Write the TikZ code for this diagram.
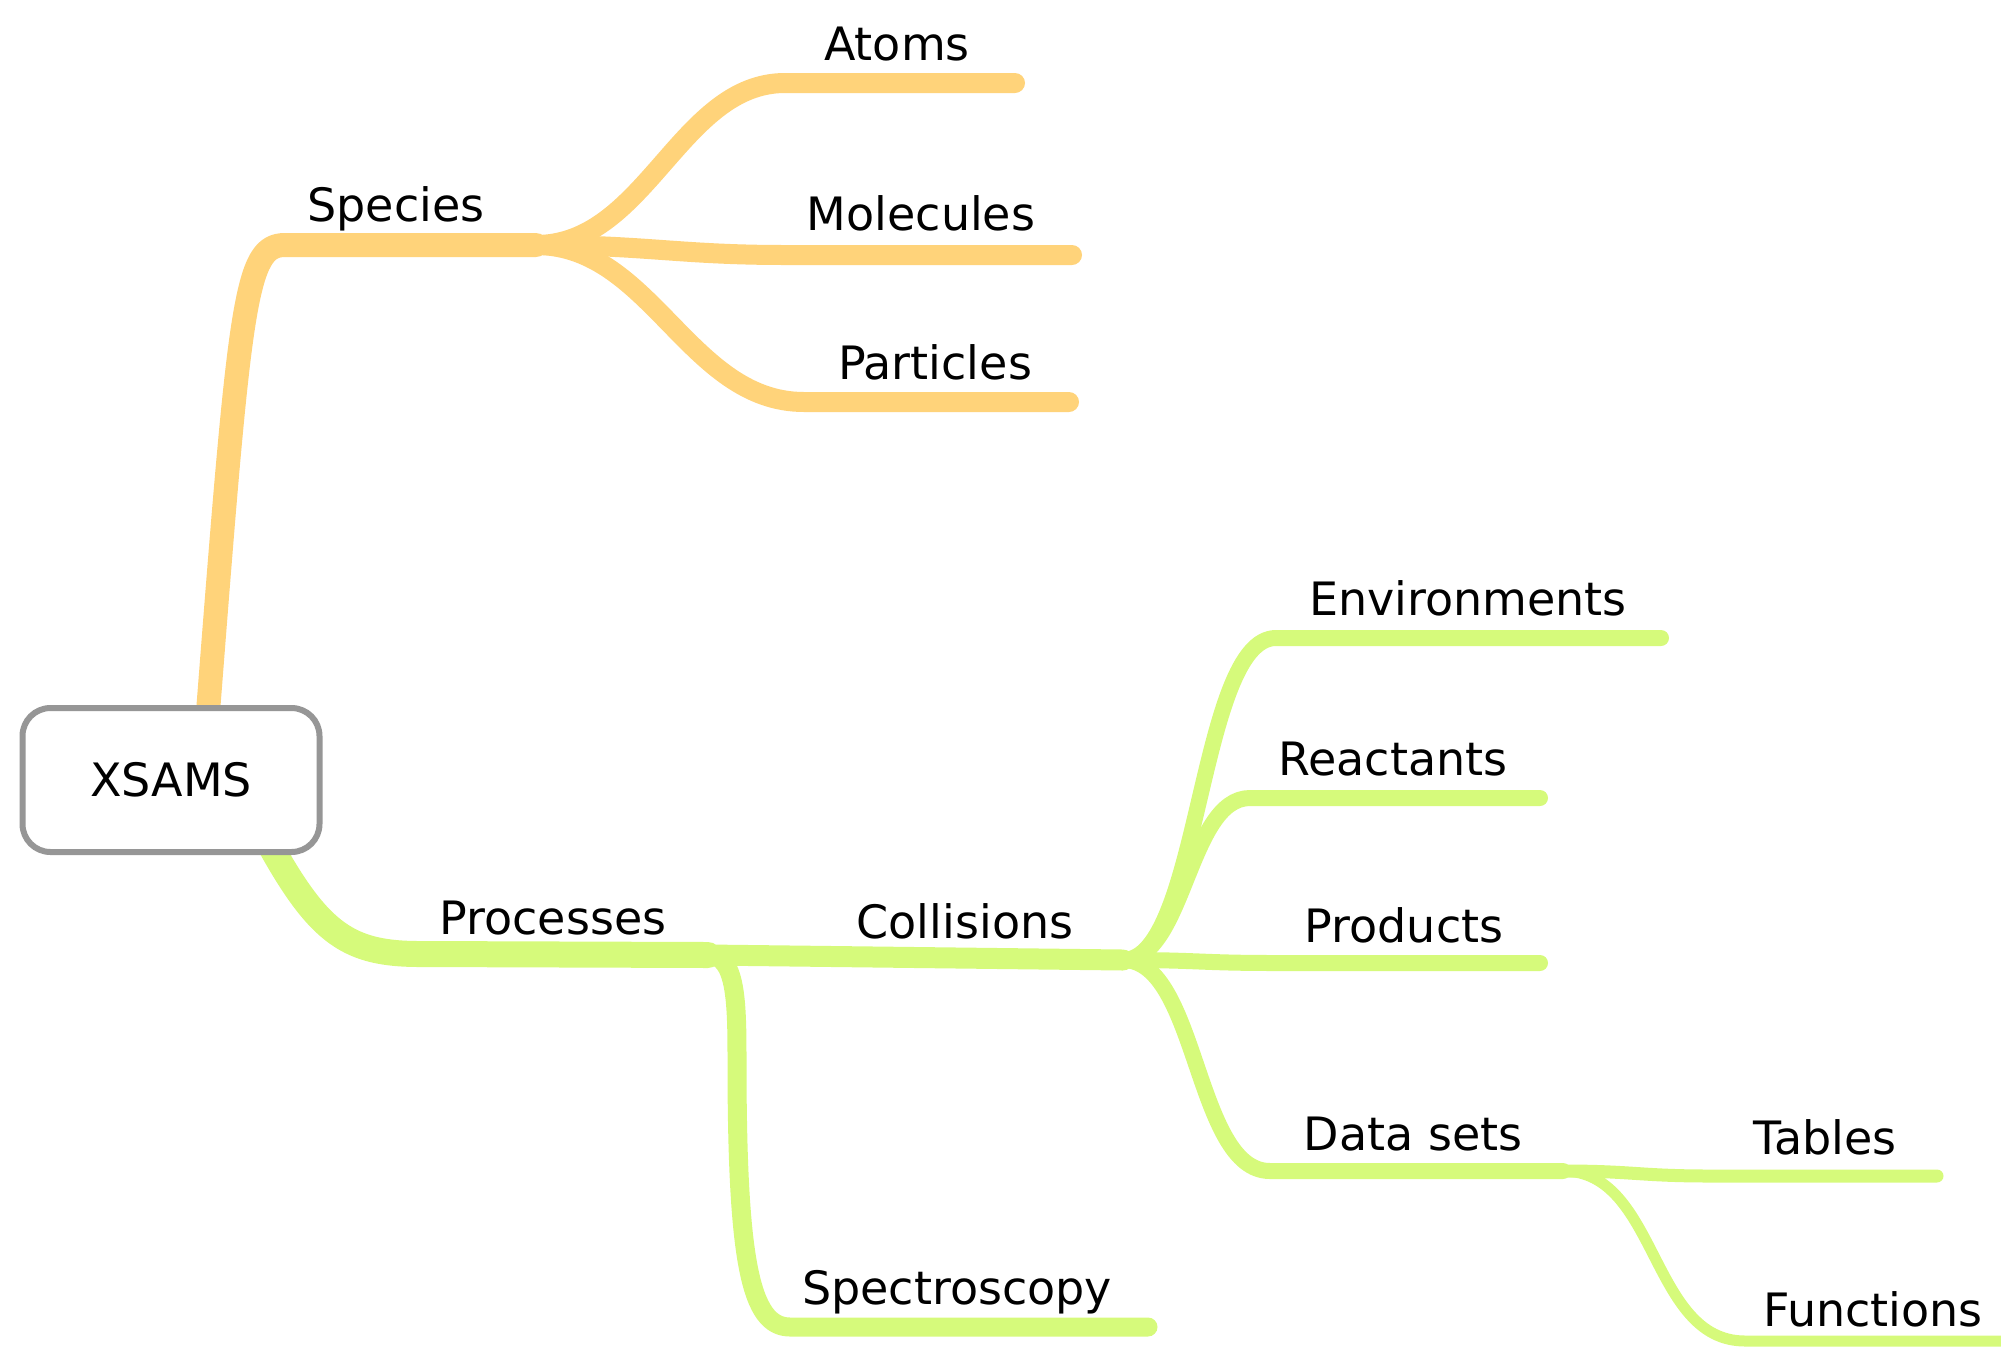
\documentclass[tikz,border=0pt]{standalone}
\usepackage{fontspec}
\setmainfont{DejaVu Sans}
\definecolor{orangeL}{RGB}{255,211,122}
\definecolor{greenL}{RGB}{214,250,123}
\definecolor{boxgray}{RGB}{150,150,150}
\begin{document}
\begin{tikzpicture}[x=1pt,y=-1pt,
  lbl/.style={anchor=base,inner sep=0pt,font=\fontsize{46}{55}\selectfont},
  obr/.style={draw=orangeL,line cap=round,line join=round},
  gbr/.style={draw=greenL,line cap=round,line join=round}]
\useasboundingbox (0,0) rectangle (2001,1347);
% ---------- coordinates ----------
\coordinate (rootO) at (208,712);
\coordinate (cSpec) at (285,245);
\coordinate (jSpec) at (536,245);
\coordinate (cAtoms) at (785,83);   \coordinate (eAtoms) at (1015,83);
\coordinate (cMol) at (785,255);    \coordinate (eMol) at (1072,255);
\coordinate (cPart) at (804,402);   \coordinate (ePart) at (1069,402);
\coordinate (rootG) at (270,845);
\coordinate (cProc) at (420,954);
\coordinate (jProc) at (708,955);
\coordinate (jColl) at (1123,960);
\coordinate (mSpec) at (737,1060);
\coordinate (cSpecy) at (790,1327); \coordinate (eSpecy) at (1148,1327);
\coordinate (cEnv) at (1276,638);   \coordinate (eEnv) at (1661,638);
\coordinate (cReac) at (1250,798);  \coordinate (eReac) at (1540,798);
\coordinate (cProd) at (1276,963);  \coordinate (eProd) at (1540,963);
\coordinate (cData) at (1270,1171); \coordinate (jData) at (1563,1171);
\coordinate (cTab) at (1710,1176);  \coordinate (eTab) at (1937,1176);
\coordinate (cFun) at (1745,1341);  \coordinate (eFun) at (2030,1341);
% ---------- orange branches ----------
\draw[obr,line width=24pt] (rootO) .. controls (240,300) and (245,245) .. (cSpec) -- (jSpec);
\draw[obr,line width=20pt] (jSpec) .. controls +(110,0) and +(-105,0) .. (cAtoms) -- (eAtoms);
\draw[obr,line width=20pt] (jSpec) .. controls +(110,0) and +(-105,0) .. (cMol) -- (eMol);
\draw[obr,line width=20pt] (jSpec) .. controls +(115,0) and +(-115,0) .. (cPart) -- (ePart);
% ---------- green branches ----------
\draw[gbr,line width=26pt] (rootG) .. controls (320,935) and (350,954) .. (cProc) -- (jProc);
\draw[gbr,line width=21pt] (jProc) -- (jColl);
\draw[gbr,line width=19pt] (jProc) .. controls +(28,0) and +(0,-60) .. (mSpec)
   .. controls +(0,200) and +(-40,0) .. (cSpecy) -- (eSpecy);
\draw[gbr,line width=16pt] (jColl) .. controls +(77,0) and +(-77,0) .. (cEnv) -- (eEnv);
\draw[gbr,line width=16pt] (jColl) .. controls +(62,0) and +(-62,0) .. (cReac) -- (eReac);
\draw[gbr,line width=16pt] (jColl) .. controls +(77,0) and +(-77,0) .. (cProd) -- (eProd);
\draw[gbr,line width=16pt] (jColl) .. controls +(75,0) and +(-75,0) .. (cData) -- (jData);
\draw[gbr,line width=13pt] (jData) .. controls +(70,0) and +(-70,0) .. (cTab) -- (eTab);
\draw[gbr,line width=11pt] (jData) .. controls +(95,0) and +(-95,0) .. (cFun) -- (eFun);
% ---------- nodes ----------
\node[draw=boxgray,line width=6pt,fill=white,rounded corners=28pt,
      minimum width=297pt,minimum height=144pt,inner sep=0pt,
      font=\fontsize{46}{55}\selectfont] (xsams) at (171,780) {XSAMS};
\node[lbl] (species) at (396,221) {Species};
\node[lbl] (atoms) at (897,60) {Atoms};
\node[lbl] (molecules) at (921,230) {Molecules};
\node[lbl] (particles) at (935,379) {Particles};
\node[lbl] (processes) at (553,934) {Processes};
\node[lbl] (collisions) at (965,938) {Collisions};
\node[lbl] (spectroscopy) at (957,1304) {Spectroscopy};
\node[lbl] (environments) at (1468,615) {Environments};
\node[lbl] (reactants) at (1393,775) {Reactants};
\node[lbl] (products) at (1404,942) {Products};
\node[lbl] (datasets) at (1413,1150) {Data sets};
\node[lbl] (tables) at (1825,1154) {Tables};
\node[lbl] (functions) at (1873,1326) {Functions};
\end{tikzpicture}
\end{document}
